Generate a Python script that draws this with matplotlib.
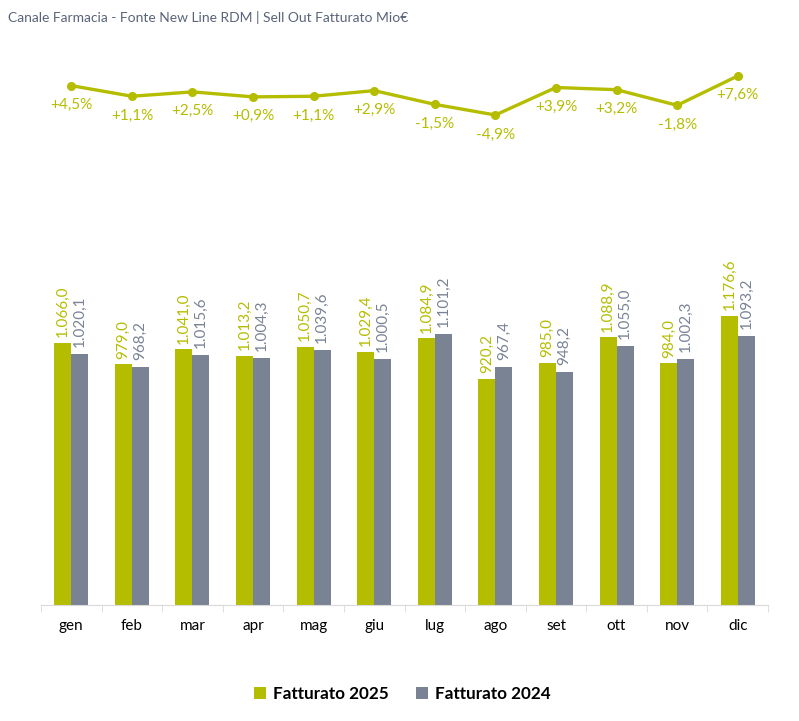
import matplotlib
matplotlib.use("Agg")
import matplotlib.pyplot as plt
import numpy as np
from matplotlib.patches import Patch

months = ["gen", "feb", "mar", "apr", "mag", "giu", "lug", "ago", "set", "ott", "nov", "dic"]
fatt_2025 = [1066.0, 979.0, 1041.0, 1013.2, 1050.7, 1029.4, 1084.9, 920.2, 985.0, 1088.9, 984.0, 1176.6]
fatt_2024 = [1020.1, 968.2, 1015.6, 1004.3, 1039.6, 1000.5, 1101.2, 967.4, 948.2, 1055.0, 1002.3, 1093.2]
var_pct = [4.5, 1.1, 2.5, 0.9, 1.1, 2.9, -1.5, -4.9, 3.9, 3.2, -1.8, 7.6]

GREEN = "#b5bd00"
GRAY = "#7a8394"
plt.rcParams['font.family'] = ['Lato', 'DejaVu Sans']

W, H = 799, 721
fig = plt.figure(figsize=(W / 100, H / 100), dpi=100)

def fx(px):
    return px / W

def fy(py):
    return 1 - py / H

def it(v):
    s = f"{v:,.1f}"
    return s.replace(",", "X").replace(".", ",").replace("X", ".")

x = np.arange(len(months))
bw = 0.28

# Bar axes
ax = fig.add_axes([fx(41), fy(605), fx(727), (605 - 130) / H])
ax.bar(x - bw / 2, fatt_2025, width=bw, color=GREEN, zorder=2)
ax.bar(x + bw / 2, fatt_2024, width=bw, color=GRAY, zorder=2)
ax.set_xlim(-0.5, len(months) - 0.5)
ax.set_ylim(0, 1933)
for i in range(len(months)):
    ax.annotate(it(fatt_2025[i]), (x[i] - bw / 2, fatt_2025[i]), xytext=(0, 4),
                textcoords="offset points", rotation=90, ha="center", va="bottom",
                color=GREEN, fontsize=11)
    ax.annotate(it(fatt_2024[i]), (x[i] + bw / 2, fatt_2024[i]), xytext=(0, 5),
                textcoords="offset points", rotation=90, ha="center", va="bottom",
                color=GRAY, fontsize=11)
for s in ["top", "left", "right"]:
    ax.spines[s].set_visible(False)
ax.spines["bottom"].set_color("#d9d9d9")
ax.set_yticks([])
ax.set_xticks(x)
ax.set_xticklabels(months, fontsize=11, color="black")
ax.tick_params(axis="x", which="major", length=0, pad=10)
ax.set_xticks(np.arange(-0.5, len(months), 1.0), minor=True)
ax.tick_params(axis="x", which="minor", length=5, color="#d9d9d9", direction="out")

# Line axes
lax = fig.add_axes([fx(41), fy(140), fx(727), 80 / H])
lax.plot(x, var_pct, color=GREEN, lw=2.4, marker="o", markersize=5.5)
lax.set_xlim(-0.5, len(months) - 0.5)
lax.set_ylim(-12.9, 12.7)
lax.axis("off")
for i, v in enumerate(var_pct):
    lbl = (f"+{v:.1f}%" if v > 0 else f"{v:.1f}%").replace(".", ",")
    lax.annotate(lbl, (x[i], v), xytext=(0, -14), textcoords="offset points",
                 ha="center", va="center", color=GREEN, fontsize=11)

# Title
fig.text(fx(8), fy(17), "Canale Farmacia - Fonte New Line RDM | Sell Out Fatturato Mio€",
         fontsize=10, color="#5a6478", ha="left", va="center")

# Legend
handles = [Patch(facecolor=GREEN, edgecolor="none", label="Fatturato 2025"),
           Patch(facecolor=GRAY, edgecolor="none", label="Fatturato 2024")]
fig.legend(handles=handles, loc="center", bbox_to_anchor=(fx(402), fy(694)), ncol=2,
           frameon=False, prop={"weight": "bold", "size": 12.3}, handlelength=0.7,
           handleheight=0.7, handletextpad=0.4, columnspacing=1.6)

fig.savefig("out.png", dpi=100)
